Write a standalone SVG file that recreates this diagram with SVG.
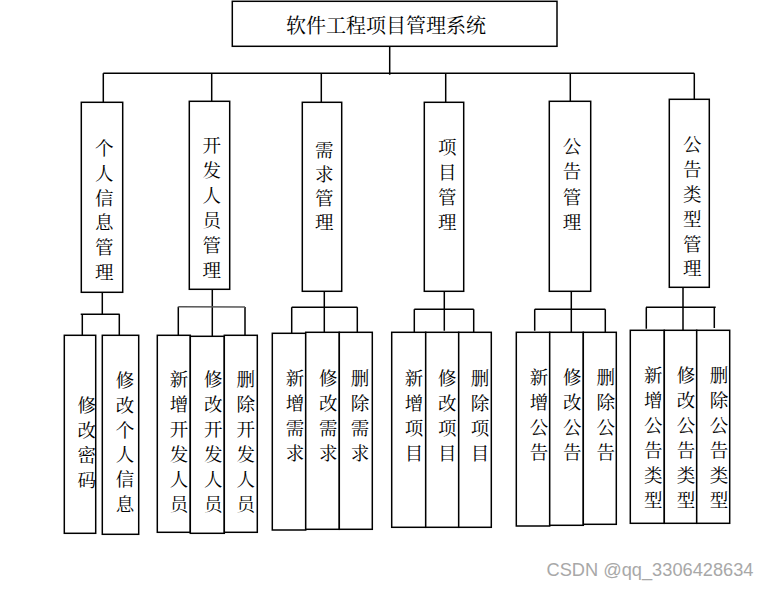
<svg xmlns="http://www.w3.org/2000/svg" width="772" height="589" viewBox="0 0 772 589">
<style>
rect{fill:#fff;stroke:#000;stroke-width:1.5}
.c path{fill:none;stroke:#000;stroke-width:1.5}
text{font-family:"Noto Serif CJK SC","Noto Sans CJK SC",serif;fill:#000;text-anchor:middle}
.t{font-size:20px}
.m{font-size:18.5px}
.s{font-size:18.5px}
.wm{font-family:"Liberation Sans",Arial,sans-serif;font-size:18px;fill:#a8a8a8;text-anchor:start}
</style>
<rect x="0" y="0" width="772" height="589" style="stroke:none;fill:#fff"/>
<g class="c" id="connectors">
<path d="M389.7 46.3V74.7M103.3 73.3H694.3M103.3 73.3V102.3M211.7 73.3V101.3M321.3 73.3V102.3M445.7 73.3V102.3M570.3 73.3V101.3M694.3 73.3V99.3"/>
<path d="M102.3 292.3V314.3M80.7 314.3H119.7M82.3 314.3V335.3M119.3 314.3V335.3"/>
<path d="M212.3 289.3V336.3M178.3 306.7V335.3M245 307V335.3"/>
<path d="M178.3 306.7L245 307" style="stroke:#555"/>
<path d="M324.3 291.3V332.3M291.7 307.3H357.3M291.7 307.3V333.3M357.3 307.3V332.3"/>
<path d="M444.3 291.3V330.7M414.3 309.3H473.7M414.3 309.3V332.3M473.7 309.3V332.3"/>
<path d="M571.3 291.3V332.3M534.7 309.3H605.3M534.7 309.3V330.7M605.3 309.3V332.3"/>
<path d="M683 287.3V330.3M646 307.3H715.7M646.3 307.3V328.7M714.3 307.3V328"/>
</g>
<g id="root"><rect x="232.3" y="1.3" width="324.7" height="45"/><text class="t" x="386" y="33">软件工程项目管理系统</text></g>

<g id="n1"><rect x="81.3" y="102.3" width="41.4" height="190"/><text class="m" x="104.3"><tspan x="104.3" y="155">个</tspan><tspan x="104.3" y="179.8">人</tspan><tspan x="104.3" y="204.6">信</tspan><tspan x="104.3" y="229.4">息</tspan><tspan x="104.3" y="254.2">管</tspan><tspan x="104.3" y="279">理</tspan></text></g>
<g id="n2"><rect x="189.3" y="101.3" width="40.4" height="188"/><text class="m"><tspan x="211.7" y="152">开</tspan><tspan x="211.7" y="177">发</tspan><tspan x="211.7" y="202">人</tspan><tspan x="211.7" y="227">员</tspan><tspan x="211.7" y="252">管</tspan><tspan x="211.7" y="277">理</tspan></text></g>
<g id="n3"><rect x="302.3" y="102.3" width="39.4" height="189"/><text class="m"><tspan x="324.3" y="157">需</tspan><tspan x="324.3" y="181">求</tspan><tspan x="324.3" y="205">管</tspan><tspan x="324.3" y="229">理</tspan></text></g>
<g id="n4"><rect x="424.3" y="102.3" width="39.4" height="189"/><text class="m"><tspan x="447.3" y="154.3">项</tspan><tspan x="447.3" y="179.3">目</tspan><tspan x="447.3" y="204.3">管</tspan><tspan x="447.3" y="229.3">理</tspan></text></g>
<g id="n5"><rect x="549.3" y="101.3" width="41.4" height="190"/><text class="m"><tspan x="572" y="153">公</tspan><tspan x="572" y="178">告</tspan><tspan x="572" y="203.5">管</tspan><tspan x="572" y="228.5">理</tspan></text></g>
<g id="n6"><rect x="669.3" y="99.3" width="40" height="188"/><text class="m"><tspan x="692.3" y="151.3">公</tspan><tspan x="692.3" y="176.1">告</tspan><tspan x="692.3" y="200.9">类</tspan><tspan x="692.3" y="225.7">型</tspan><tspan x="692.3" y="250.5">管</tspan><tspan x="692.3" y="275.3">理</tspan></text></g>

<g id="n1a"><rect x="64.3" y="335.3" width="31.4" height="198"/><text class="s"><tspan x="86.7" y="412">修</tspan><tspan x="86.7" y="437">改</tspan><tspan x="86.7" y="462">密</tspan><tspan x="86.7" y="487">码</tspan></text></g>
<g id="n1b"><rect x="102.3" y="335.3" width="36.4" height="199"/><text class="s"><tspan x="125" y="387">修</tspan><tspan x="125" y="411.8">改</tspan><tspan x="125" y="436.6">个</tspan><tspan x="125" y="461.4">人</tspan><tspan x="125" y="486.2">信</tspan><tspan x="125" y="511">息</tspan></text></g>

<g id="n2a"><rect x="157.3" y="335.3" width="33" height="197"/><text class="s"><tspan x="179" y="386">新</tspan><tspan x="179" y="411">增</tspan><tspan x="179" y="436">开</tspan><tspan x="179" y="461">发</tspan><tspan x="179" y="486">人</tspan><tspan x="179" y="511">员</tspan></text></g>
<g id="n2b"><rect x="190.3" y="336.3" width="34" height="197"/><text class="s"><tspan x="213.3" y="386">修</tspan><tspan x="213.3" y="411">改</tspan><tspan x="213.3" y="436">开</tspan><tspan x="213.3" y="461">发</tspan><tspan x="213.3" y="486">人</tspan><tspan x="213.3" y="511">员</tspan></text></g>
<g id="n2c"><rect x="224.3" y="335.3" width="33" height="197"/><text class="s"><tspan x="245.7" y="386">删</tspan><tspan x="245.7" y="411">除</tspan><tspan x="245.7" y="436">开</tspan><tspan x="245.7" y="461">发</tspan><tspan x="245.7" y="486">人</tspan><tspan x="245.7" y="511">员</tspan></text></g>

<g id="n3a"><rect x="272.3" y="333.3" width="33.4" height="196.7"/><text class="s"><tspan x="295" y="385">新</tspan><tspan x="295" y="410">增</tspan><tspan x="295" y="435">需</tspan><tspan x="295" y="459.5">求</tspan></text></g>
<g id="n3b"><rect x="305.7" y="332.3" width="33.6" height="197"/><text class="s"><tspan x="328.3" y="385">修</tspan><tspan x="328.3" y="410">改</tspan><tspan x="328.3" y="435">需</tspan><tspan x="328.3" y="459.5">求</tspan></text></g>
<g id="n3c"><rect x="339.3" y="332.3" width="33" height="197"/><text class="s"><tspan x="360" y="385">删</tspan><tspan x="360" y="410">除</tspan><tspan x="360" y="435">需</tspan><tspan x="360" y="459.5">求</tspan></text></g>

<g id="n4a"><rect x="391.7" y="332.3" width="34" height="195"/><text class="s"><tspan x="414" y="384.7">新</tspan><tspan x="414" y="409.7">增</tspan><tspan x="414" y="434.7">项</tspan><tspan x="414" y="459.7">目</tspan></text></g>
<g id="n4b"><rect x="425.7" y="332.3" width="33" height="195"/><text class="s"><tspan x="447.3" y="384.7">修</tspan><tspan x="447.3" y="409.7">改</tspan><tspan x="447.3" y="434.7">项</tspan><tspan x="447.3" y="459.7">目</tspan></text></g>
<g id="n4c"><rect x="458.7" y="332.3" width="32.6" height="195"/><text class="s"><tspan x="480" y="384.7">删</tspan><tspan x="480" y="409.7">除</tspan><tspan x="480" y="434.7">项</tspan><tspan x="480" y="459.7">目</tspan></text></g>

<g id="n5a"><rect x="516.3" y="332.3" width="33.4" height="193.7"/><text class="s"><tspan x="539" y="383.7">新</tspan><tspan x="539" y="408.7">增</tspan><tspan x="539" y="433.7">公</tspan><tspan x="539" y="458.7">告</tspan></text></g>
<g id="n5b"><rect x="549.7" y="332.3" width="33.6" height="193"/><text class="s"><tspan x="572.3" y="383.7">修</tspan><tspan x="572.3" y="408.7">改</tspan><tspan x="572.3" y="433.7">公</tspan><tspan x="572.3" y="458.7">告</tspan></text></g>
<g id="n5c"><rect x="583.3" y="332.3" width="33" height="192"/><text class="s"><tspan x="605.7" y="383.7">删</tspan><tspan x="605.7" y="408.7">除</tspan><tspan x="605.7" y="433.7">公</tspan><tspan x="605.7" y="458.7">告</tspan></text></g>

<g id="n6a"><rect x="630.3" y="330.3" width="34" height="193"/><text class="s"><tspan x="653.3" y="382">新</tspan><tspan x="653.3" y="407">增</tspan><tspan x="653.3" y="432">公</tspan><tspan x="653.3" y="457">告</tspan><tspan x="653.3" y="482">类</tspan><tspan x="653.3" y="507">型</tspan></text></g>
<g id="n6b"><rect x="664.3" y="330.3" width="32.4" height="193"/><text class="s"><tspan x="686" y="382">修</tspan><tspan x="686" y="407">改</tspan><tspan x="686" y="432">公</tspan><tspan x="686" y="457">告</tspan><tspan x="686" y="482">类</tspan><tspan x="686" y="507">型</tspan></text></g>
<g id="n6c"><rect x="696.7" y="330.3" width="33" height="193"/><text class="s"><tspan x="719" y="382">删</tspan><tspan x="719" y="407">除</tspan><tspan x="719" y="432">公</tspan><tspan x="719" y="457">告</tspan><tspan x="719" y="482">类</tspan><tspan x="719" y="507">型</tspan></text></g>

<text class="wm" x="546.5" y="576" textLength="207" lengthAdjust="spacingAndGlyphs">CSDN @qq_3306428634</text>
</svg>
